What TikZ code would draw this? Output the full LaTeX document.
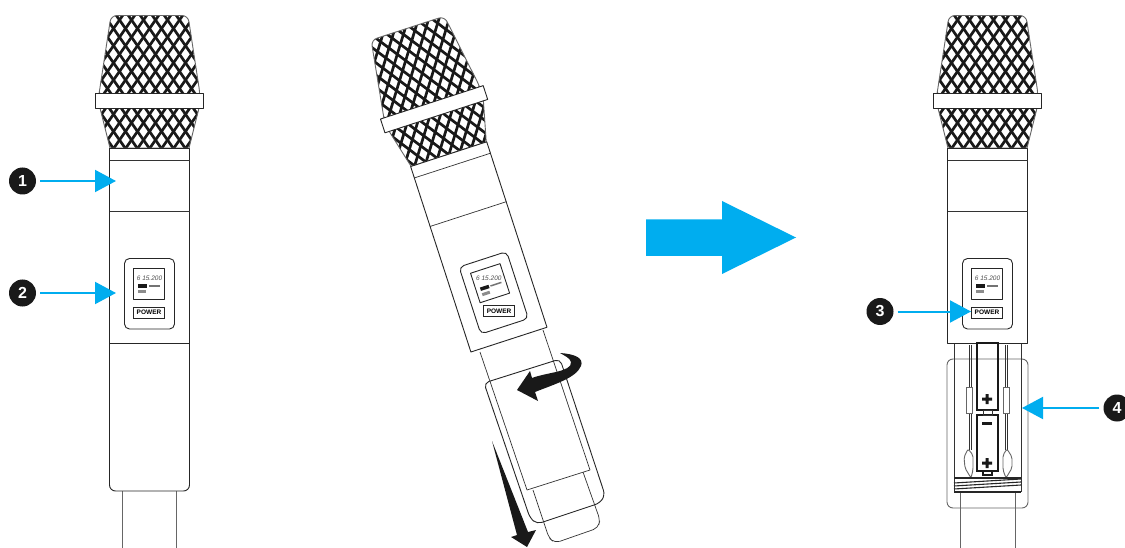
\documentclass[tikz,border=0pt]{standalone}
\usepackage{fontspec}
\setsansfont{Liberation Sans}
\usetikzlibrary{arrows.meta}
\definecolor{callblue}{HTML}{00ADEF}
\tikzset{
  outline/.style={draw=black!85,line width=0.9pt,fill=white,line join=round},
  thinline/.style={draw=black!80,line width=0.7pt},
  greyline/.style={draw=black!60,line width=0.9pt},
  meshline/.style={draw=black!90,line width=2.7pt},
  battline/.style={draw=black!90,line width=1.3pt},
  callout/.style={circle,fill=black!90,text=white,minimum size=27pt,inner sep=0pt,font=\sffamily\bfseries\fontsize{16pt}{16pt}\selectfont},
  callarrow/.style={draw=callblue,line width=2pt,shorten <=4pt,-{Triangle[length=21pt,width=22pt]}},
  bluearrow/.style={fill=callblue},
  blackarrow/.style={fill=black!90},
  hatchline/.style={draw=black!85,line width=1.1pt}
}
\newcommand{\grillepath}{(149.5,15.5) [rounded corners=6pt] -- (188,15.5) -- (200,94) [sharp corners] -- (199,108) -- (189,148) -- (110,148) -- (100,108) -- (99,94) [rounded corners=6pt] -- (111,15.5) -- (149.5,15.5)}
% head, collar and body of one microphone, from y=15 to y=343
\newcommand{\micupper}{%
  \begin{scope}
    \clip \grillepath;
    \fill[white] (90,10) rectangle (210,150);
    \foreach \d in {-14,...,14} {
      \draw[meshline] ({149.5+12*\d-63},-10) -- ({149.5+12*\d+63},170);
      \draw[meshline] ({149.5+12*\d+63},-10) -- ({149.5+12*\d-63},170);
    }
  \end{scope}
  \draw[greyline] \grillepath;
  \draw[outline] (95.5,93.5) rectangle (203.5,108);
  \draw[outline] (109.5,148) rectangle (189.5,343);
  \draw[thinline] (109.5,160) -- (189.5,160);
  \draw[thinline] (109.5,211) -- (189.5,211);
  \draw[outline,rounded corners=5pt] (124.5,258.5) rectangle (174.5,329);
  \draw[outline] (133.5,268) rectangle (164.5,299);
  \node[inner sep=0pt,text=black!70,font=\sffamily\itshape\fontsize{6.5pt}{6.5pt}\selectfont] (freq) at (149.5,278) {6 15.200};
  \fill[black!90] (138,284.5) rectangle (147,288);
  \fill[black!45] (138,290.5) rectangle (146,293.5);
  \fill[black!55] (148.5,285.5) rectangle (160,287);
  \node[draw=black!85,line width=0.8pt,minimum width=31pt,minimum height=11pt,inner sep=0pt,font=\sffamily\bfseries\fontsize{6.5pt}{6.5pt}\selectfont] (power) at (149,312.5) {POWER};
}
\begin{document}
\begin{tikzpicture}[x=1pt,y=-1pt,>=stealth]
  \useasboundingbox (0,0) rectangle (1125,548);
  \fill[white] (0,0) rectangle (1125,548);

  % left
  \draw[greyline] (122,491) -- (122,548) (176,491) -- (176,548);
  \draw[outline,rounded corners=6pt] (109.5,343) -- (109.5,491) -- (189.5,491) -- (189.5,343);
  \micupper
  \node[callout] (one) at (22.5,181) {1};
  \coordinate (onetip) at (116,181);
  \draw[callarrow] (one) -- (onetip);
  \node[callout] (two) at (22.5,293) {2};
  \coordinate (twotip) at (116,293);
  \draw[callarrow] (two) -- (twotip);

  % middle
  \begin{scope}[shift={(434,109)},rotate=18,shift={(-149.5,-100.5)}]
    \micupper
  \end{scope}
  \draw[thinline] (480,352) -- (527,490);
  \draw[thinline] (543,330) -- (590,470);
  \draw[outline,fill=none,rounded corners=5pt] (484,383) -- (560,359) -- (605,495) -- (600,503) -- (537,524) -- (530,518) -- cycle;
  \draw[thinline,rounded corners=5pt] (533,490) -- (549,538) -- (555,543) -- (598,528) -- (600,520) -- (583,472);
  \draw[thinline] (527,490) -- (590,470);
  \fill[black!90] (560,353) .. controls (575,354) and (584,358) .. (581,366) .. controls (576,378) and (555,384) .. (535,392) -- (538,401) -- (517,390) -- (530,371) -- (532,378) .. controls (548,372) and (572,372) .. (571,362) .. controls (570,358) and (565,356) .. cycle;
  \fill[black!90] (492,441) -- (528,532) -- (536,530) -- (527,547) -- (511,537) -- (517,535) -- cycle;

  % big arrow
  \fill[bluearrow] (646,219.5) -- (722,219.5) -- (722,201) -- (796,237.5) -- (722,274) -- (722,256) -- (646,256) -- cycle;

  % right
  \draw[greyline] (960,492) -- (960,548) (1015,492) -- (1015,548);
  \draw[greyline,rounded corners=6pt] (947,359) -- (947,508) -- (1028,508) -- (1028,359) -- cycle;
  \draw[thinline] (954,343) -- (954,492) (1021,343) -- (1021,492);
  \begin{scope}[shift={(838,0)}]
    \micupper
  \end{scope}
  \draw[battline] (977,343) rectangle (998,410);
  \draw[battline] (977,415) rectangle (998,471);
  \draw[thinline] (983,410) rectangle (992,415);
  \draw[battline] (983,471) rectangle (992,475);
  \fill[black!90] (985.5,394) rectangle (988.5,404) (982,397.5) rectangle (992,400.5);
  \fill[black!90] (985.5,458) rectangle (988.5,468) (982,461.5) rectangle (992,464.5);
  \fill[black!90] (982,421.5) rectangle (992,424.5);
  \draw[thinline] (969,345) -- (969,387) (971.5,345) -- (971.5,387) (969,413) -- (969,450) (971.5,413) -- (971.5,450);
  \draw[thinline] (1005,345) -- (1005,387) (1007.5,345) -- (1007.5,387) (1005,413) -- (1005,450) (1007.5,413) -- (1007.5,450);
  \draw[greyline] (966.7,387) rectangle (972.7,413);
  \draw[greyline] (1003.5,387) rectangle (1009.5,413);
  \draw[greyline,rounded corners=2pt] (968,449) -- (973,455) -- (973,470) -- (971,478) -- (965,468) -- (964,457) -- cycle;
  \draw[greyline,rounded corners=2pt] (1007,449) -- (1012,457) -- (1012,468) -- (1006,478) -- (1003,470) -- (1003,455) -- cycle;
  \draw[hatchline] (954,478) -- (1021,478) (954,492) -- (1021,492);
  \foreach \h in {482,485,488} {
    \draw[hatchline] (954,\h+1) -- (1021,\h-3);
  }
  \node[callout] (three) at (880,311.5) {3};
  \coordinate (threetip) at (971,311.5);
  \draw[callarrow] (three) -- (threetip);
  \node[callout] (four) at (1117,408) {4};
  \coordinate (fourtip) at (1022,408);
  \draw[callarrow] (four) -- (fourtip);
\end{tikzpicture}
\end{document}
